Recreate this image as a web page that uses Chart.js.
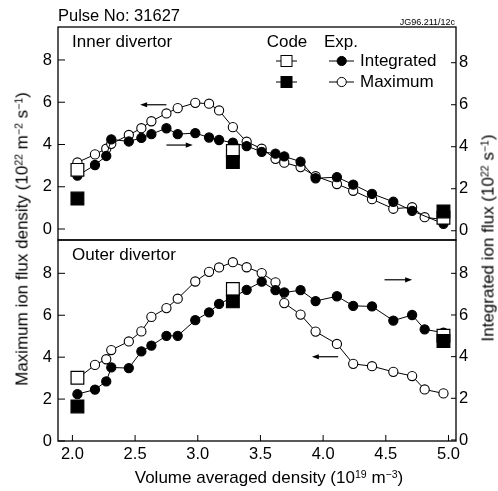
<!DOCTYPE html>
<html><head><meta charset="utf-8">
<script src="https://cdn.jsdelivr.net/npm/chart.js@4/dist/chart.umd.min.js"></script>
<style>
html,body{margin:0;padding:0;background:#fff;}
#wrap{position:relative;width:498px;height:491px;overflow:hidden;font-family:"Liberation Sans",Arial,Helvetica,sans-serif;color:#000;}
canvas{position:absolute;left:0;}
.t{position:absolute;white-space:nowrap;line-height:1;}
sup{font-size:62%;position:relative;top:-0.5em;vertical-align:baseline;line-height:0;}
</style></head><body>
<div id="wrap">
<canvas id="topc" width="498" height="260" style="top:0"></canvas>
<canvas id="botc" width="498" height="271" style="top:220px"></canvas>
<div class="t" style="left:58px;top:15px;transform:translateY(-50%);font-size:16.5px">Pulse No: 31627</div>
<div class="t" style="right:43px;top:22px;transform:translateY(-50%);font-size:9px">JG96.211/12c</div>
<div class="t" style="left:22px;top:239px;transform:translate(-50%,-50%) rotate(-90deg);font-size:17px">Maximum ion flux density (10<sup>22</sup> m<sup>&minus;2</sup> s<sup>&minus;1</sup>)</div>
<div class="t" style="left:488px;top:238px;transform:translate(-50%,-50%) rotate(-90deg);font-size:17px">Integrated ion flux (10<sup>22</sup> s<sup>&minus;1</sup>)</div>
<div class="t" style="left:269px;top:477px;transform:translate(-50%,-50%);font-size:17px">Volume averaged density (10<sup>19</sup> m<sup>&minus;3</sup>)</div>
</div>
<script>
// ---- data ----
const DENSITY = [2.04, 2.18, 2.27, 2.31, 2.45, 2.55, 2.63, 2.75, 2.84, 2.98, 3.09, 3.17, 3.28, 3.39, 3.51, 3.62, 3.69, 3.82, 3.94, 4.11, 4.24, 4.39, 4.56, 4.71, 4.81, 4.96];
const INNER_MAXIMUM = [3.15, 3.53, 3.8, 4.03, 4.45, 4.77, 5.1, 5.47, 5.72, 5.97, 5.93, 5.61, 4.82, 4.13, 3.8, 3.32, 3.14, 2.93, 2.5, 2.13, 1.81, 1.41, 0.96, 1.03, 0.56, 0.44];
const INNER_INTEGRATED = [2.62, 3.13, 3.56, 4.35, 4.25, 4.42, 4.6, 4.88, 4.6, 4.65, 4.44, 4.32, 4.19, 4.03, 3.76, 3.67, 3.54, 3.29, 2.5, 2.55, 2.2, 1.76, 1.38, 0.95, null, 0.33];
const OUTER_MAXIMUM = [2.98, 3.63, 3.9, 4.34, 4.75, 5.23, 5.92, 6.34, 6.79, 7.61, 8.07, 8.28, 8.53, 8.29, 8.01, 7.57, 6.58, 6.03, 5.22, 4.63, 3.68, 3.57, 3.3, 3.1, 2.46, 2.27];
const OUTER_INTEGRATED = [2.2, 2.42, 2.81, 3.48, 3.45, 4.25, 4.53, 5.0, 5.0, 5.75, 6.13, 6.53, 6.85, 7.21, 7.6, 7.19, 7.08, 7.19, 6.67, 6.9, 6.44, 6.41, 5.73, 6.0, 5.31, 5.15];
const CODE_DENSITY = [2.04, 3.28, 4.96];
const INNER_CODE_OPEN = [2.9, 3.8, 0.62];
const INNER_CODE_FILLED = [1.44, 3.17, 0.83];
const OUTER_CODE_OPEN = [2.99, 7.25, 5.0];
const OUTER_CODE_FILLED = [1.65, 6.66, 4.77];
const X_TICKS = [2.0, 2.5, 3.0, 3.5, 4.0, 4.5, 5.0];
const Y_TICKS = [0, 2, 4, 6, 8];
// arrows: [x from, x to, y, axis]
const INNER_ARROWS = [[2.75, 2.54, 5.88, 'yL'], [2.75, 2.96, 4.08, 'yR']];
const OUTER_ARROWS = [[4.49, 4.71, 7.69, 'yR'], [4.12, 3.91, 4.02, 'yL']];

const FONT = '"Liberation Sans", Arial, Helvetica, sans-serif';
const pts = (xs, ys) => xs.map((x, i) => ({x: x, y: ys[i]}));

function lineSet(label, ys, axis, filled, order) {
  return {label, data: pts(DENSITY, ys), yAxisID: axis, borderColor: '#000', borderWidth: 1,
    pointRadius: 4.6, pointHoverRadius: 4.6, pointBackgroundColor: filled ? '#000' : '#fff',
    pointBorderColor: '#000', pointBorderWidth: 1.1, showLine: true, spanGaps: true, tension: 0, order, clip: false};
}
function codeSet(label, ys, axis, filled, order) {
  return {label, data: pts(CODE_DENSITY, ys), yAxisID: axis, showLine: false, pointStyle: 'rect',
    pointRadius: 9, pointHoverRadius: 9, pointBackgroundColor: filled ? '#000' : '#fff',
    pointBorderColor: '#000', pointBorderWidth: 1.2, order, clip: false};
}
function yAxis(pos, min, max) {
  return {position: pos, min, max,
    afterFit: s => { s.width = pos === 'left' ? 58 : 42; },
    afterBuildTicks: s => { s.ticks = Y_TICKS.map(v => ({value: v})); },
    grid: {display: false, drawTicks: false}, border: {display: false},
    ticks: {padding: pos === 'left' ? 6 : 3, color: '#000', font: {size: 16.5, family: FONT}, callback: v => String(v)}};
}
function arrow(ctx, x1, x2, y) {
  const dir = Math.sign(x2 - x1);
  ctx.beginPath(); ctx.moveTo(x1, y); ctx.lineTo(x2 - dir * 5, y); ctx.stroke();
  ctx.beginPath(); ctx.moveTo(x2, y); ctx.lineTo(x2 - dir * 7, y - 2.6); ctx.lineTo(x2 - dir * 7, y + 2.6); ctx.closePath(); ctx.fill();
}
function decoPlugin(panelLabel, arrows, showLegend, xTicks) {
  return {id: 'deco', afterDraw(chart) {
    const ctx = chart.ctx, a = chart.chartArea, sc = chart.scales;
    ctx.save();
    ctx.strokeStyle = '#000'; ctx.fillStyle = '#000'; ctx.lineWidth = 1.3;
    ctx.strokeRect(a.left, a.top, a.right - a.left, a.bottom - a.top);
    ctx.lineWidth = 1;
    Y_TICKS.forEach(v => {
      let y = sc.yL.getPixelForValue(v);
      ctx.beginPath(); ctx.moveTo(a.left, y); ctx.lineTo(a.left + 7, y); ctx.stroke();
      y = sc.yR.getPixelForValue(v);
      ctx.beginPath(); ctx.moveTo(a.right, y); ctx.lineTo(a.right - 5, y); ctx.stroke();
    });
    if (xTicks) X_TICKS.forEach(v => {
      const x = sc.x.getPixelForValue(v);
      ctx.beginPath(); ctx.moveTo(x, a.bottom); ctx.lineTo(x, a.bottom - 6); ctx.stroke();
    });
    ctx.lineWidth = 1.2;
    arrows.forEach(r => {
      arrow(ctx, sc.x.getPixelForValue(r[0]), sc.x.getPixelForValue(r[1]), sc[r[3]].getPixelForValue(r[2]));
    });
    ctx.font = '17px ' + FONT; ctx.textBaseline = 'middle'; ctx.textAlign = 'left';
    ctx.fillText(panelLabel, a.left + 14, a.top + 15);
    if (showLegend) {
      ctx.textAlign = 'center'; ctx.fillText('Code', 287, 42);
      ctx.textAlign = 'left'; ctx.fillText('Exp.', 324, 42);
      ctx.lineWidth = 1;
      [[61, '#fff'], [82, '#000']].forEach(([y, c]) => {
        ctx.beginPath(); ctx.moveTo(276, y); ctx.lineTo(297, y); ctx.stroke();
        ctx.fillStyle = c; ctx.fillRect(281, y - 5.5, 11, 11);
        ctx.strokeRect(281, y - 5.5, 11, 11);
      });
      [[61, '#000', 'Integrated'], [82, '#fff', 'Maximum']].forEach(([y, c, t]) => {
        ctx.beginPath(); ctx.moveTo(329, y); ctx.lineTo(354, y); ctx.stroke();
        ctx.beginPath(); ctx.arc(341.7, y, 4.6, 0, Math.PI * 2); ctx.fillStyle = c; ctx.fill(); ctx.stroke();
        ctx.fillStyle = '#000'; ctx.fillText(t, 360, y);
      });
    }
    ctx.restore();
  }};
}
const common = {responsive: false, animation: false, events: [],
  plugins: {legend: {display: false}, tooltip: {enabled: false}}};

new Chart(document.getElementById('topc'), {
  type: 'line',
  data: {datasets: [
    codeSet('Code filled', INNER_CODE_FILLED, 'yL', true, 0),
    codeSet('Code open', INNER_CODE_OPEN, 'yR', false, 1),
    lineSet('Integrated', INNER_INTEGRATED, 'yR', true, 2),
    lineSet('Maximum', INNER_MAXIMUM, 'yL', false, 3)
  ]},
  options: Object.assign({}, common, {
    layout: {padding: {top: 27, bottom: 20, left: 0, right: 0}},
    scales: {
      x: {type: 'linear', min: 1.885, max: 5.06, display: false},
      yL: yAxis('left', -0.52, 9.56),
      yR: yAxis('right', -0.44, 9.70)
    }
  }),
  plugins: [decoPlugin('Inner divertor', INNER_ARROWS, true, false)]
});

new Chart(document.getElementById('botc'), {
  type: 'line',
  data: {datasets: [
    codeSet('Code filled', OUTER_CODE_FILLED, 'yL', true, 0),
    codeSet('Code open', OUTER_CODE_OPEN, 'yR', false, 1),
    lineSet('Integrated', OUTER_INTEGRATED, 'yR', true, 2),
    lineSet('Maximum', OUTER_MAXIMUM, 'yL', false, 3)
  ]},
  options: Object.assign({}, common, {
    layout: {padding: {top: 20, bottom: 0, left: 0, right: 0}},
    scales: {
      x: {type: 'linear', position: 'bottom', min: 1.885, max: 5.06,
        afterFit: s => { s.height = 50; },
        afterBuildTicks: s => { s.ticks = X_TICKS.map(v => ({value: v})); },
        grid: {display: false, drawTicks: false}, border: {display: false},
        ticks: {padding: 4, maxRotation: 0, color: '#000', font: {size: 16.5, family: FONT}, callback: v => v.toFixed(1)}},
      yL: yAxis('left', 0, 9.59),
      yR: yAxis('right', -0.05, 9.6)
    }
  }),
  plugins: [decoPlugin('Outer divertor', OUTER_ARROWS, false, true)]
});
</script>
</body></html>
